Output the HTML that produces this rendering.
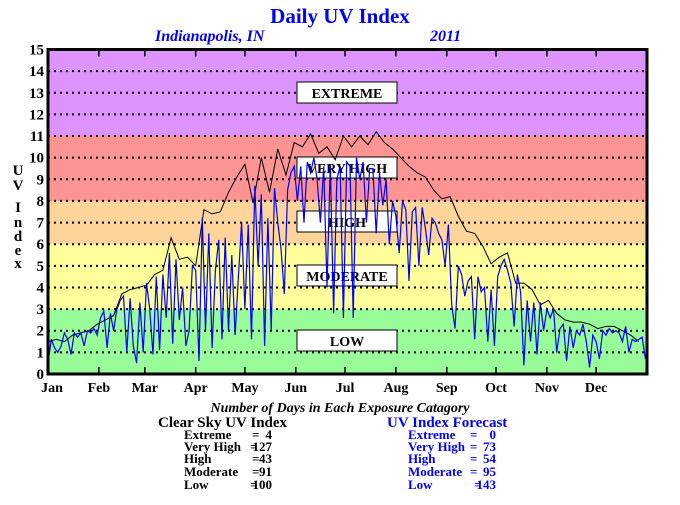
<!DOCTYPE html>
<html><head><meta charset="utf-8"><style>
body{margin:0;background:#fff;width:680px;height:500px;overflow:hidden}
svg text{font-family:"Liberation Serif",serif;font-weight:bold}
</style></head><body>
<svg id="chart" width="680" height="500" xmlns="http://www.w3.org/2000/svg">
<text x="340" y="23" text-anchor="middle" font-size="21" fill="#0000ff">Daily UV Index</text>
<text x="155" y="41" font-size="16" font-style="italic" fill="#0000ff">Indianapolis, IN</text>
<text x="430" y="41" font-size="16" font-style="italic" fill="#0000ff">2011</text>
<g id="bands"></g>
<g id="grid"></g>
<g font-size="14">
<rect x="297" y="82" width="100" height="21" fill="#fff" stroke="#000"/>
<text x="347" y="98" text-anchor="middle">EXTREME</text>
<rect x="297" y="157" width="100" height="21" fill="#fff" stroke="#000"/>
<text x="347" y="173" text-anchor="middle">VERY HIGH</text>
<rect x="297" y="211" width="100" height="21" fill="#fff" stroke="#000"/>
<text x="347" y="227" text-anchor="middle">HIGH</text>
<rect x="297" y="265" width="100" height="21" fill="#fff" stroke="#000"/>
<text x="347" y="281" text-anchor="middle">MODERATE</text>
<rect x="297" y="330" width="100" height="21" fill="#fff" stroke="#000"/>
<text x="347" y="346" text-anchor="middle">LOW</text>
</g>
<path id="clear" fill="none" stroke="#000" stroke-width="1"/>
<path id="fcst" fill="none" stroke="#0000ff" stroke-width="1.2"/>
<rect x="48" y="49.5" width="599" height="324.5" fill="none" stroke="#000" stroke-width="3"/>
<g id="axes"></g>
<g font-size="15" text-anchor="middle">
<text x="18" y="175">U</text><text x="18" y="190">V</text><text x="18" y="212">I</text><text x="18" y="227">n</text><text x="18" y="241">d</text><text x="18" y="255">e</text><text x="18" y="268">x</text>
</g>
<text x="340" y="412" text-anchor="middle" font-size="14" font-style="italic">Number of Days in Each Exposure Catagory</text>
<g font-size="13">
<text x="158" y="427" font-size="15">Clear Sky UV Index</text>
<text x="184" y="439">Extreme</text><text x="252" y="439">=</text><text x="272" y="439" text-anchor="end">4</text>
<text x="184" y="451">Very High</text><text x="250" y="451">=</text><text x="272" y="451" text-anchor="end">127</text>
<text x="184" y="463">High</text><text x="252" y="463">=</text><text x="272" y="463" text-anchor="end">43</text>
<text x="184" y="476">Moderate</text><text x="252" y="476">=</text><text x="272" y="476" text-anchor="end">91</text>
<text x="184" y="489">Low</text><text x="250" y="489">=</text><text x="272" y="489" text-anchor="end">100</text>
</g>
<g font-size="13" fill="#0000ff">
<text x="387" y="427" font-size="15">UV Index Forecast</text>
<text x="408" y="439">Extreme</text><text x="470" y="439">=</text><text x="496" y="439" text-anchor="end">0</text>
<text x="408" y="451">Very High</text><text x="470" y="451">=</text><text x="496" y="451" text-anchor="end">73</text>
<text x="408" y="463">High</text><text x="470" y="463">=</text><text x="496" y="463" text-anchor="end">54</text>
<text x="408" y="476">Moderate</text><text x="470" y="476">=</text><text x="496" y="476" text-anchor="end">95</text>
<text x="408" y="489">Low</text><text x="474" y="489">=</text><text x="496" y="489" text-anchor="end">143</text>
</g>
</svg>
<script>
const months=["Jan","Feb","Mar","Apr","May","Jun","Jul","Aug","Sep","Oct","Nov","Dec"];
const monthStartDays=[0,31,59,90,120,151,181,212,243,273,304,334];
const yTicks=[0,1,2,3,4,5,6,7,8,9,10,11,12,13,14,15];
const bandLimits=[0,3,6,8,11,15];
const bandColors=["#98fc98","#fefe9a","#fdd49a","#fc9494","#dc94fc"];
const clearStep=5;
const clearUV=[1.5,1.6,1.5,1.8,1.9,2.0,2.3,2.5,2.7,3.7,3.9,4.0,4.1,4.6,4.8,6.3,5.3,5.4,5.0,7.6,7.4,7.5,8.4,9.1,9.7,7.9,10.0,8.4,10.4,9.2,10.7,10.5,11.1,10.2,10.5,9.9,11.0,10.5,11.0,10.6,11.2,10.7,10.4,10.0,9.6,9.3,9.1,8.5,8.1,8.2,7.3,6.6,6.5,5.9,5.1,5.4,5.6,4.2,4.2,3.9,3.2,3.4,2.8,2.5,2.4,2.4,2.3,2.1,2.2,2.2,2.0,1.8,1.5];
const fcstStep=2;
const fcstUV=[0.5,1.6,1.2,1.0,1.3,1.9,1.6,0.9,1.9,1.7,1.9,1.3,2.0,1.9,2.1,1.8,
2.6,2.9,1.2,2.8,2.0,3.0,3.4,3.6,1.0,3.5,1.3,0.5,3.3,1.0,4.2,3.0,0.9,4.5,1.1,4.6,2.6,5.6,1.4,5.3,2.5,4.0,1.3,2.0,5.0,4.8,0.6,7.2,2.0,6.5,1.2,4.8,6.2,1.6,6.3,2.0,5.5,1.8,4.5,7.0,3.0,6.9,1.6,8.7,5.0,8.3,1.3,7.2,2.0,8.6,7.0,5.8,3.7,8.5,9.3,9.6,8.0,9.6,7.0,9.8,9.3,10.0,9.0,7.0,9.6,4.0,9.7,2.8,9.0,9.6,2.6,9.8,9.6,2.6,10.0,9.0,9.8,7.0,9.5,9.5,6.5,9.3,7.8,9.0,6.0,8.0,7.3,5.6,8.0,7.6,4.3,7.5,7.7,5.0,7.7,6.7,5.5,7.2,7.0,6.5,6.2,5.0,6.9,3.2,
2.1,5.0,4.6,3.6,4.3,4.5,1.6,4.5,3.8,4.0,1.5,3.9,1.3,4.5,5.0,5.3,4.8,4.2,2.2,4.6,3.8,0.4,3.4,1.5,3.3,0.9,3.3,2.0,3.0,2.6,3.0,1.0,2.1,2.3,0.6,2.2,1.2,2.0,1.8,2.3,1.5,0.3,1.8,1.5,0.7,2.0,1.8,2.1,1.9,2.0,1.9,1.5,2.2,1.0,1.6,1.5,1.6,1.7,0.7];
const X0=48,X1=647,Y0=374,Y1=49.5,DAYS=365,YMAX=15;
const sx=d=>X0+d*(X1-X0)/DAYS, sy=v=>Y0-v*(Y0-Y1)/YMAX;
const NS="http://www.w3.org/2000/svg";
function mk(tag,attrs,parent){const e=document.createElementNS(NS,tag);for(const k in attrs)e.setAttribute(k,attrs[k]);parent.appendChild(e);return e;}
const bands=document.getElementById('bands');
for(let i=0;i<bandColors.length;i++){
 const r=mk('rect',{x:X0,y:sy(bandLimits[i+1]),width:X1-X0,height:sy(bandLimits[i])-sy(bandLimits[i+1]),fill:bandColors[i]},bands);
 
 
}
const grid=document.getElementById('grid');
yTicks.forEach(t=>{ if(t>0&&t<YMAX){
 const l=mk('line',{x1:X0,x2:X1,y1:sy(t),y2:sy(t),stroke:'#000','stroke-width':2,'stroke-dasharray':'2 4'},grid);
 
 
}});
const axes=document.getElementById('axes');
yTicks.forEach(t=>{
 const tx=mk('text',{x:44,y:sy(t)+5,'text-anchor':'end','font-size':15},axes);
 tx.textContent=t;
 
 
});
months.forEach((m,i)=>{
 const x=sx(monthStartDays[i]);
 if(i>0){
  const a=mk('line',{x1:x,x2:x,y1:Y1,y2:Y1+7,stroke:'#000','stroke-width':1.5},axes);
  
  
  const b=mk('line',{x1:x,x2:x,y1:Y0,y2:Y0-7,stroke:'#000','stroke-width':1.5},axes);
  
  
 }
 const t=mk('text',{x:i==0?x+4:x,y:392,'text-anchor':'middle','font-size':14},axes);
 t.textContent=m;
 
 
});
document.getElementById('clear').setAttribute('d',clearUV.map((v,i)=>(i?'L':'M')+sx(Math.min(i*clearStep,DAYS-1)).toFixed(1)+' '+sy(v).toFixed(1)).join(''));
document.getElementById('fcst').setAttribute('d',fcstUV.map((v,i)=>(i?'L':'M')+sx(Math.min(i*fcstStep,DAYS-1)).toFixed(1)+' '+sy(v).toFixed(1)).join(''));
</script>
</body></html>
